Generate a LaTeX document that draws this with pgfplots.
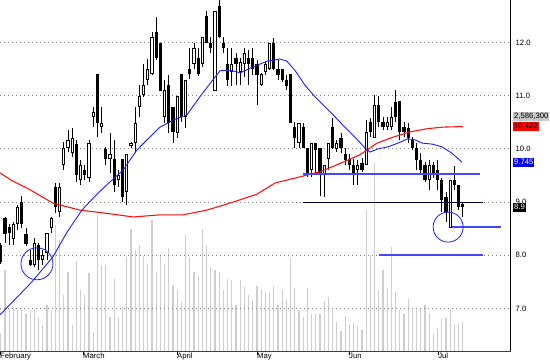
\documentclass[border=0pt]{standalone}
\usepackage{pgfplots}
\pgfplotsset{compat=1.18}
\usepackage{pgfplotstable}
\usepackage{fontspec}
\setmainfont{Liberation Sans}
\definecolor{volgray}{RGB}{206,206,206}
\definecolor{mablue}{RGB}{30,30,255}
\definecolor{mared}{RGB}{255,20,20}
\definecolor{lineblue}{RGB}{70,70,255}
\definecolor{gridgray}{RGB}{130,130,130}
\definecolor{boxgray}{RGB}{200,200,200}

% black (falling) candles: index open high low close
\pgfplotstableread{
i o h l c
0 8.19 8.23 7.84 7.88
1 8.70 8.72 8.23 8.40
2 8.53 8.59 8.19 8.42
5 9.00 9.12 8.51 8.59
6 8.40 8.51 8.18 8.21
7 7.91 8.10 7.80 7.82
9 8.19 8.23 7.72 7.91
13 9.28 9.36 8.80 8.91
18 10.09 10.17 9.38 9.51
20 9.60 9.70 9.42 9.51
23 11.41 11.41 10.22 10.49
25 10.00 10.04 9.70 9.81
27 9.81 10.17 9.19 9.32
29 9.81 9.81 9.00 9.10
37 12.20 12.48 11.67 11.71
38 11.99 11.99 11.09 11.09
40 11.20 11.39 10.30 10.49
41 10.79 10.79 10.11 10.32
43 11.41 11.41 10.51 10.60
45 11.50 11.90 11.32 11.41
47 11.71 11.90 11.37 11.41
49 12.50 12.59 11.99 11.99
50 11.99 12.10 11.80 11.90
52 12.69 12.80 12.09 12.10
53 11.99 12.10 11.80 11.90
54 11.60 11.90 11.18 11.30
56 11.71 11.80 11.20 11.60
59 11.71 11.86 11.20 11.60
60 11.71 11.90 11.39 11.50
61 11.60 11.67 10.83 11.39
65 11.99 12.09 11.48 11.50
66 11.50 11.67 11.30 11.39
67 11.50 11.50 11.26 11.30
68 11.30 11.39 11.11 11.18
69 11.41 11.41 10.49 10.49
70 10.41 10.51 10.02 10.21
72 10.41 10.49 10.02 10.02
73 10.02 10.02 9.47 9.51
75 10.11 10.11 9.55 9.98
76 10.02 10.02 9.12 9.51
79 10.41 10.58 10.00 10.02
81 10.21 10.30 9.92 10.02
82 9.91 10.02 9.70 9.79
83 9.81 9.91 9.60 9.70
84 9.70 9.81 9.32 9.51
86 9.74 9.83 9.57 9.60
88 10.51 10.58 10.22 10.32
90 10.83 11.00 10.41 10.51
91 10.51 10.60 10.36 10.41
94 10.88 11.11 10.51 10.60
95 10.90 10.90 10.17 10.32
96 10.41 10.51 10.22 10.32
97 10.39 10.49 10.11 10.21
98 10.19 10.22 9.98 10.02
99 10.02 10.11 9.60 9.79
100 9.79 9.92 9.55 9.60
101 9.70 9.75 9.38 9.42
103 9.70 9.75 9.45 9.51
104 9.60 9.79 9.23 9.42
105 9.42 9.45 8.81 9.04
106 9.10 9.19 8.63 8.81
108 9.42 9.68 9.23 9.32
109 9.32 9.32 8.85 8.91
110 8.97 9.00 8.72 8.91
}\down

% white (rising) candles
\pgfplotstableread{
i o h l c
3 8.31 8.63 8.19 8.59
4 8.59 8.95 8.48 8.91
8 7.82 8.33 7.78 8.23
10 7.91 8.10 7.82 8.01
11 8.04 8.42 7.91 8.42
12 8.51 8.72 8.42 8.70
14 8.81 9.36 8.72 9.28
15 9.70 10.13 9.60 10.02
16 10.02 10.36 9.94 10.17
17 9.92 10.39 9.85 10.21
19 9.42 9.79 9.32 9.70
21 9.45 10.17 9.38 10.11
22 10.60 10.79 10.41 10.69
24 10.41 10.79 10.30 10.49
26 9.81 10.30 9.55 9.91
28 9.42 9.60 9.28 9.51
30 9.19 9.91 8.95 9.91
31 10.06 10.13 10.02 10.11
32 10.11 10.79 9.92 10.49
33 10.79 11.20 10.60 11.00
34 11.01 11.60 10.98 11.20
35 11.30 11.69 11.20 11.50
36 11.41 12.20 11.39 12.10
39 10.60 11.30 10.49 11.11
42 10.30 11.00 10.21 11.00
44 10.60 11.30 10.39 11.30
46 11.60 11.99 11.50 11.90
48 11.60 12.10 11.54 12.10
51 11.09 12.59 11.09 12.59
55 11.45 11.90 11.18 11.60
57 11.45 11.71 11.20 11.63
58 11.60 11.90 11.35 11.80
62 11.20 11.43 11.18 11.41
63 11.45 11.63 11.39 11.60
64 11.50 11.99 11.48 11.99
71 10.11 10.49 10.02 10.49
74 9.60 10.11 9.47 10.11
77 9.51 9.70 9.10 9.70
78 9.81 10.11 9.60 10.11
80 10.00 10.17 9.94 10.11
85 9.60 9.79 9.32 9.70
87 9.70 10.54 9.70 10.32
89 10.21 11.01 10.21 10.83
92 10.41 10.60 10.36 10.51
93 10.41 10.79 10.36 10.60
102 9.42 9.79 9.23 9.70
107 8.51 9.42 8.51 9.42
}\up

% volume, millions of shares
\pgfplotstableread{
i v
0 1.52
1 7.23
2 3.66
3 3.92
4 3.66
5 3.66
6 3.30
7 3.66
8 3.75
9 3.03
10 2.32
11 4.10
12 3.66
13 11.24
14 9.90
15 5.00
16 7.05
17 2.32
18 8.03
19 5.44
20 5.00
21 6.96
22 1.69
23 12.13
24 7.67
25 7.67
26 3.03
27 6.42
28 3.03
29 3.92
30 8.38
31 10.88
32 9.01
33 9.46
34 8.47
35 7.76
36 11.69
37 7.05
38 8.47
39 7.76
40 9.19
41 5.89
42 5.44
43 4.37
44 10.35
45 8.38
46 7.05
47 6.69
48 10.88
49 9.46
50 7.49
51 7.23
52 7.05
53 5.44
54 6.42
55 6.33
56 4.10
57 6.33
58 5.71
59 5.00
60 4.55
61 5.80
62 5.53
63 5.26
64 5.26
65 5.80
66 4.10
67 5.44
68 4.64
69 8.21
70 5.62
71 3.66
72 3.03
73 5.62
74 3.30
75 3.30
76 3.30
77 4.46
78 4.82
79 3.66
80 2.59
81 1.78
82 3.12
83 2.41
84 2.50
85 2.23
86 1.87
87 12.58
88 8.56
89 16.77
90 5.44
91 7.23
92 5.62
93 9.28
94 5.26
95 3.66
96 3.30
97 4.64
98 3.66
99 3.66
100 3.84
101 4.10
102 3.39
103 1.52
104 2.05
105 2.85
106 2.94
107 3.75
108 2.41
109 2.41
110 2.5863
}\vol

\pgfplotsset{
  errline/.style={draw=none, mark=none, forget plot,
    error bars/.cd, y dir=plus, y explicit, error mark=none,
    error bar style={#1}},
}

\begin{document}
\begin{tikzpicture}[font=\fontsize{7.7bp}{9bp}\selectfont]
% volume pane (behind)
\begin{axis}[scale only axis, width=510.5bp, height=351bp,
  xmin=-0.2, xmax=121.35, ymin=0, ymax=31.3, axis lines=none]
\addplot[ycomb, draw=volgray, line width=1.3bp, mark=none] table[x=i, y=v]{\vol};
\end{axis}
% price pane
\begin{axis}[scale only axis, width=510.5bp, height=351bp,
  xmin=-0.2, xmax=121.35, ymin=6.2, ymax=12.8, clip=false,
  axis x line*=bottom, axis y line*=right,
  axis line style={-, black, line width=0.8bp},
  x axis line style={draw=black!75},
  ytick={7,8,...,12}, ymajorgrids,
  grid style={gridgray, line width=0.9bp, dash pattern=on 0.9bp off 3.1bp},
  yticklabel pos=right,
  /pgf/number format/assume math mode=true,
  yticklabel={\pgfmathprintnumber[fixed,fixed zerofill,precision=1]{\tick}},
  ytick style={draw=none},
  yticklabel style={anchor=west, xshift=-1bp, inner sep=2bp},
  xtick={-0.2,19.56,41.94,61.0,82.9,104.1},
  xticklabels={February,March,April,May,Jun,Jul},
  tick align=outside, major tick length=4bp,
  xtick style={black, line width=0.8bp},
  xticklabel style={anchor=north west, xshift=-1.5bp, yshift=3.5bp, inner sep=1.5bp},
]
% wicks
\addplot[errline={draw=black, line width=0.9bp}] table[x=i, y=l, y error expr=\thisrow{h}-\thisrow{l}]{\down};
\addplot[errline={draw=black, line width=0.9bp}] table[x=i, y=l, y error expr=\thisrow{h}-\thisrow{l}]{\up};
% black bodies
\addplot[errline={draw=black, line width=3.2bp}] table[x=i, y=c, y error expr=\thisrow{o}-\thisrow{c}]{\down};
% white bodies: outline then interior
\addplot[errline={draw=black, line width=3.2bp}] table[x=i, y=o, y error expr=\thisrow{c}-\thisrow{o}]{\up};
\addplot[errline={draw=white, line width=1.3bp, shorten <=0.9bp, shorten >=0.9bp}] table[x=i, y=o, y error expr=\thisrow{c}-\thisrow{o}]{\up};

% moving averages
\addplot[mared, line width=1.1bp, mark=none] coordinates {
(-0.2,9.55) (2.7,9.40) (7.0,9.23) (12.4,8.98) (18.8,8.85) (26.0,8.78) (31.5,8.72)
(37.9,8.76) (43.4,8.76) (49.1,8.85) (55.3,9.00) (61.0,9.15) (65.3,9.36) (70.0,9.45)
(76.0,9.57) (81.2,9.74) (85.5,9.89) (89.6,10.11) (93.4,10.22) (97.4,10.32)
(101.5,10.38) (105.3,10.41) (110.0,10.42)};
\addplot[mablue, line width=0.9bp, mark=none] coordinates {
(-0.2,6.88) (7.4,7.50) (12.4,7.97) (15.8,8.44) (19.3,8.85) (22.9,9.15) (26.0,9.38)
(29.1,9.60) (32.4,9.98) (34.8,10.17) (37.9,10.41) (41.0,10.54) (44.3,10.64)
(47.4,10.98) (50.5,11.30) (52.2,11.47) (54.6,11.48) (57.0,11.43) (60.0,11.54)
(63.4,11.65) (66.5,11.69) (68.1,11.65) (70.0,11.48) (72.4,11.20) (74.8,10.98)
(77.2,10.79) (79.6,10.60) (81.9,10.41) (84.3,10.22) (86.7,10.02) (87.9,9.94)
(89.8,10.00) (92.2,10.04) (94.6,10.11) (96.9,10.19) (98.6,10.17) (100.3,10.11)
(102.7,10.09) (105.0,10.04) (107.4,9.92) (109.8,9.75)};

% horizontal study lines
\addplot[lineblue, line width=1.3bp, mark=none] coordinates {(71.9,9.53) (114.1,9.53)};
\addplot[black!80!blue, line width=1bp, mark=none] coordinates {(71.9,9.0) (114.8,9.0)};
\addplot[lineblue, line width=1.6bp, mark=none] coordinates {(90.0,8.0) (114.8,8.0)};
\addplot[lineblue, line width=1.6bp, mark=none] coordinates {(107.4,8.53) (119.1,8.53)};

% circles
\addplot[only marks, mark=o, mark size=16bp, mark options={mablue, line width=0.8bp}] coordinates {(8.6,7.84)};
\addplot[only marks, mark=o, mark size=15bp, mark options={mablue, line width=0.8bp}] coordinates {(106.5,8.53)};

% value boxes on the price scale
\node[anchor=west, fill=boxgray, inner xsep=1bp, inner ysep=0.8bp, text height=5.8bp, text depth=1.6bp] at (axis cs:121.94,10.61) {2,586,300};
\node[anchor=west, fill=red, text=black, inner xsep=1bp, inner ysep=0.8bp, text height=5.8bp, text depth=1.6bp] at (axis cs:121.94,10.42) {10.422};
\node[anchor=west, fill=blue, text=white, inner xsep=1bp, inner ysep=0.8bp, text height=5.8bp, text depth=1.6bp] at (axis cs:121.94,9.745) {9.745};
\node[anchor=west, fill=black, text=white, inner xsep=1bp, inner ysep=0.8bp, text height=5.8bp, text depth=1.6bp] at (axis cs:121.94,8.90) {8.9};
\end{axis}
\pgfresetboundingbox
\useasboundingbox (0,-13bp) rectangle (550bp,351bp);
\end{tikzpicture}
\end{document}
